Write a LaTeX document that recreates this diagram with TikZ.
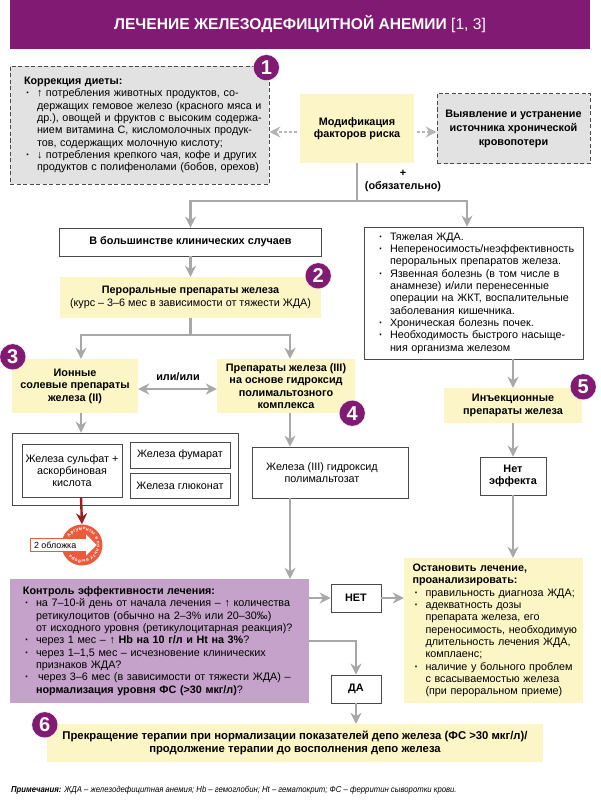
\documentclass[tikz,border=0pt]{standalone}
\usepackage{fontspec}
\usepackage{xcolor}
\setmainfont{Liberation Sans}
\usetikzlibrary{arrows.meta,positioning,calc,shapes.arrows,decorations.text}
\definecolor{plum}{HTML}{801A72}
\definecolor{pale}{HTML}{FCF5C5}
\definecolor{lilac}{HTML}{C4A2C9}
\definecolor{fog}{HTML}{E2E2E2}
\definecolor{arrowgray}{HTML}{A8A8A8}
\definecolor{dotgray}{HTML}{B4B4B4}
\definecolor{edgegray}{HTML}{4A4A4A}
\definecolor{wine}{HTML}{9C1C1F}
\definecolor{coral}{HTML}{EC5A3C}
\newlength{\lm}
\newcommand{\hd}[1]{\hspace*{\lm}\textbf{#1}}
\newcommand{\bul}{\hspace*{\dimexpr\lm+2pt\relax}\makebox[11pt][l]{\textbf{·}}}
\newcommand{\ind}{\hspace*{\dimexpr\lm+13pt\relax}}
\newcommand{\boldtext}{\fontsize{10.85}{12.35}\selectfont\bfseries}
\begin{document}
\begin{tikzpicture}[x=1pt,y=1pt,>={Stealth[inset=3.6pt,length=11pt,width=11pt]},
			font=\fontsize{10.8}{12.35}\selectfont]
			\tikzstyle{box}=[draw=edgegray,line width=0.8pt,inner sep=0pt,align=center]
			\tikzstyle{softbox}=[fill=pale,inner sep=0pt,align=center]
			\tikzstyle{dashbox}=[fill=fog,draw=edgegray,line width=0.7pt,dash pattern=on 4pt off 2.5pt,inner sep=0pt]
			\tikzstyle{listbox}=[inner sep=0pt,align=left]
			\tikzstyle{gline}=[draw=arrowgray,line width=2.4pt]
			\tikzstyle{garrow}=[gline,->]
			\tikzstyle{darrow}=[gline,->,draw=dotgray,dash pattern=on 2.5pt off 2.5pt,shorten <=3pt]
			\tikzstyle{numdot}=[circle,fill=plum,draw=white,line width=0.3pt,minimum size=26pt,inner sep=0pt,text=white,font=\fontsize{20}{20}\selectfont\bfseries]
			\useasboundingbox (0,0) rectangle (600,-800);
			
			\node[fill=plum,minimum width=580pt,minimum height=49pt,inner sep=0pt,text=white,font=\fontsize{15.6}{18}\selectfont] (Title) at (300,-24.5) {\raisebox{-2.5pt}{\textbf{ЛЕЧЕНИЕ ЖЕЛЕЗОДЕФИЦИТНОЙ АНЕМИИ} [1, 3]}};
			\node[softbox,minimum width=114pt,minimum height=69pt,font=\boldtext] (Modif)[below of = Title, node distance=104pt, xshift=57pt] {Модификация\\факторов риска};
			\node[dashbox,listbox,text width=259pt,minimum height=118pt] (Diet)[left of = Modif, node distance=217.5pt, yshift=3.5pt] {\setlength{\lm}{14pt}\hd{Коррекция диеты:}\\
				\bul ↑ потребления животных продуктов, со-\\
				\ind держащих гемовое железо (красного мяса и\\
				\ind др.), овощей и фруктов с высоким содержа-\\
				\ind нием витамина С, кисломолочных продук-\\
				\ind тов, содержащих молочную кислоту;\\
				\bul ↓ потребления крепкого чая, кофе и других\\
				\ind продуктов с полифенолами (бобов, орехов)};
			\node[dashbox,align=center,minimum width=153pt,minimum height=70pt,font=\fontsize{10.85}{14}\selectfont\bfseries] (Blood)[right of = Modif, node distance=156.5pt] {Выявление и устранение\\источника хронической\\кровопотери};
			\node[align=center,font=\boldtext] (Must)[below of = Modif, node distance=52.5pt, xshift=46pt] {+\\(обязательно)};
			\coordinate[below of = Modif, node distance=72.5pt] (Fork);
			
			\node[box,minimum width=262pt,minimum height=28pt,font=\boldtext] (Most)[below of = Modif, node distance=113.5pt, xshift=-166.5pt] {В большинстве клинических случаев};
			\node[softbox,minimum width=261pt,minimum height=41pt] (Oral)[below of = Most, node distance=55.5pt] {\textbf{Пероральные препараты железа}\\(курс – 3–6 мес в зависимости от тяжести ЖДА)};
			\coordinate[below of = Oral, node distance=37.5pt] (OralFork);
			\node[box,listbox,text width=219pt,minimum height=132pt] (Severe)[below of = Modif, node distance=164.5pt, xshift=116.5pt] {\setlength{\lm}{13pt}\bul Тяжелая ЖДА.\\
				\bul Непереносимость/неэффективность\\
				\ind пероральных препаратов железа.\\
				\bul Язвенная болезнь (в том числе в\\
				\ind анамнезе) и/или перенесенные\\
				\ind операции на ЖКТ, воспалительные\\
				\ind заболевания кишечника.\\
				\bul Хроническая болезнь почек.\\
				\bul Необходимость быстрого насыще-\\
				\ind ния организма железом};
			
			\node[softbox,minimum width=126pt,minimum height=54pt,font=\fontsize{10.85}{12.6}\selectfont\bfseries] (Ionic)[below of = Oral, node distance=88.5pt, xshift=-115.5pt] {Ионные\\солевые препараты\\железа (II)};
			\node[softbox,minimum width=138pt,minimum height=54pt,font=\boldtext] (Poly)[right of = Ionic, node distance=211pt] {Препараты железа (III)\\на основе гидроксид\\полимальтозного\\комплекса};
			\node[font=\boldtext] (Or)[right of = Ionic, node distance=103pt, yshift=9pt] {или/или};
			
			\node[box,minimum width=226pt,minimum height=72pt] (Group)[below of = Ionic, node distance=83pt, xshift=50pt] {};
			\node[box,minimum width=100pt,minimum height=53pt] (Sulf)[below of = Ionic, node distance=84.5pt, xshift=-3pt] {Железа сульфат +\\аскорбиновая\\кислота};
			\node[box,minimum width=100pt,minimum height=26pt] (Fum)[below of = Ionic, node distance=69pt, xshift=105pt] {Железа фумарат};
			\node[box,minimum width=100pt,minimum height=25pt] (Gluc)[below of = Fum, node distance=30.5pt] {Железа глюконат};
			\node[box,minimum width=156pt,minimum height=51pt] (Maltose)[below of = Poly, node distance=86.5pt, xshift=44pt] {Железа (III) гидроксид\hspace*{16pt}\\полимальтозат\hspace*{16pt}};
			
			\node[circle,fill=coral,minimum size=41pt,inner sep=0pt] (Sign)[below of = Sulf, node distance=74.5pt, xshift=10pt] {};
			\path[decorate,decoration={text along path,text align={fit to path},text={|\fontsize{4.6}{5}\selectfont\bfseries\color{white}|Аргументы в пользу выбора}}]
			([shift={(148:15pt)}]Sign.center) arc[start angle=148,end angle=-140,radius=15pt];
			\node[single arrow,draw=coral,fill=white,line width=0.8pt,single arrow head extend=4.5pt,minimum height=67pt,minimum width=24pt,inner sep=1.5pt,font=\fontsize{8.9}{10}\selectfont] (Cover)[left of = Sign, node distance=52pt, anchor=tail] {2 обложка\hspace*{11pt}};
			
			\node[fill=lilac,listbox,text width=299pt,minimum height=124pt] (Check)[below of = Sulf, node distance=170.5pt, xshift=87.5pt] {\setlength{\lm}{13pt}\hd{Контроль эффективности лечения:}\\
				\bul на 7–10-й день от начала лечения – ↑ количества\\
				\ind ретикулоцитов (обычно на 2–3\% или 20–30‰)\\
				\ind от исходного уровня (ретикулоцитарная реакция)?\\
				\bul через 1 мес – ↑ \textbf{Hb на 10 г/л и Ht на 3\%}?\\
				\bul через 1–1,5 мес – исчезновение клинических\\
				\ind признаков ЖДА?\\
				\bul\hspace*{2pt}через 3–6 мес (в зависимости от тяжести ЖДА) –\\
				\ind \textbf{нормализация уровня ФС (>30 мкг/л)}?};
			\node[box,minimum width=50pt,minimum height=28pt,font=\boldtext] (No)[right of = Check, node distance=196.5pt, yshift=43pt] {НЕТ};
			\node[box,minimum width=50pt,minimum height=28pt,font=\boldtext] (Yes)[below of = No, node distance=91pt] {ДА};
			\node[softbox,minimum width=496pt,minimum height=38pt,font=\fontsize{11.3}{12.8}\selectfont\bfseries] (Stop)[below of = Yes, node distance=54pt, xshift=-61pt] {Прекращение терапии при нормализации показателей депо железа (ФС >30 мкг/л)/\\продолжение терапии до восполнения депо железа};
			
			\node[softbox,minimum width=138pt,minimum height=35pt,font=\boldtext] (Inject)[below of = Severe, node distance=112.5pt, xshift=39.5pt] {Инъекционные\\препараты железа};
			\node[box,minimum width=66pt,minimum height=38pt,font=\boldtext] (NoEffect)[below of = Inject, node distance=70.5pt] {Нет\\эффекта};
			\node[fill=pale,listbox,text width=179pt,minimum height=145pt] (Review)[below of = NoEffect, node distance=154.5pt, xshift=-19.5pt] {\setlength{\lm}{8.5pt}\hd{Остановить лечение,}\\
				\hd{проанализировать:}\\
				\bul правильность диагноза ЖДА;\\
				\bul адекватность дозы\\
				\ind препарата железа, его\\
				\ind переносимость, необходимую\\
				\ind длительность лечения ЖДА,\\
				\ind комплаенс;\\
				\bul наличие у больного проблем\\
				\ind с всасываемостью железа\\
				\ind (при пероральном приеме)};
			
			\node[anchor=west,inner sep=0pt,font=\fontsize{8.6}{10}\selectfont\itshape,xscale=0.9,transform shape] (Note) at (11,-790) {\textbf{Примечания:} ЖДА – железодефицитная анемия; Hb – гемоглобин; Ht – гематокрит; ФС – ферритин сыворотки крови.};
			
			\node[numdot] (N1) at ([xshift=-3pt,yshift=-2pt]Diet.north east) {1};
			\node[numdot] (N2) at ([xshift=-3pt,yshift=1pt]Oral.north east) {2};
			\node[numdot] (N3) at ([xshift=1pt,yshift=2pt]Ionic.north west) {3};
			\node[numdot] (N4) at ([xshift=-3pt,yshift=0pt]Poly.south east) {4};
			\node[numdot] (N5) at ([xshift=1pt,yshift=1pt]Inject.north east) {5};
			\node[numdot] (N6) at ([xshift=-2pt,yshift=-1pt]Stop.north west) {6};
			
			\draw[darrow] ([yshift=-3.5pt]Modif.west) -- ([yshift=-3.5pt]Modif.west -| Diet.east);
			\draw[darrow] ([yshift=-3.5pt]Modif.east) -- ([yshift=-3.5pt]Modif.east -| Blood.west);
			\draw[gline] (Modif.south) -- (Fork);
			\draw[garrow] (Fork) -| (Most.north);
			\draw[garrow] (Fork) -| ([xshift=-6.5pt]Severe.north);
			\draw[garrow] (Most.south) -- (Oral.north);
			\draw[gline] (Oral.south) -- (OralFork);
			\draw[garrow] (OralFork) -| ([xshift=6pt]Ionic.north);
			\draw[garrow] (OralFork) -| ([xshift=4pt]Poly.north);
			\draw[garrow,<->] ([yshift=-3pt]Ionic.east) -- ([yshift=-3pt]Poly.west);
			\draw[garrow] ([xshift=6pt]Ionic.south) -- ([xshift=6pt]Ionic.south |- Group.north);
			\draw[garrow] ([xshift=4pt]Poly.south) -- ([xshift=4pt]Poly.south |- Maltose.north);
			\draw[garrow] ([xshift=4pt]Poly.south |- Maltose.south) -- ([xshift=4pt]Poly.south |- Check.north);
			\draw[garrow,draw=wine] ([xshift=9pt]Sulf.south) -- (Sign.north);
			\draw[garrow] (No.west -| Check.east) -- (No.west);
			\draw[garrow] (No.east) -- (No.east -| Review.west);
			\draw[garrow] (Check.east) -| (Yes.north);
			\draw[garrow] (Yes.south) -- (Yes.south |- Stop.north);
			\draw[garrow] ([xshift=39.5pt]Severe.south) -- (Inject.north);
			\draw[garrow] (Inject.south) -- (NoEffect.north);
			\draw[garrow] (NoEffect.south) -- (NoEffect.south |- Review.north);
			
			\end{tikzpicture}
\end{document}
